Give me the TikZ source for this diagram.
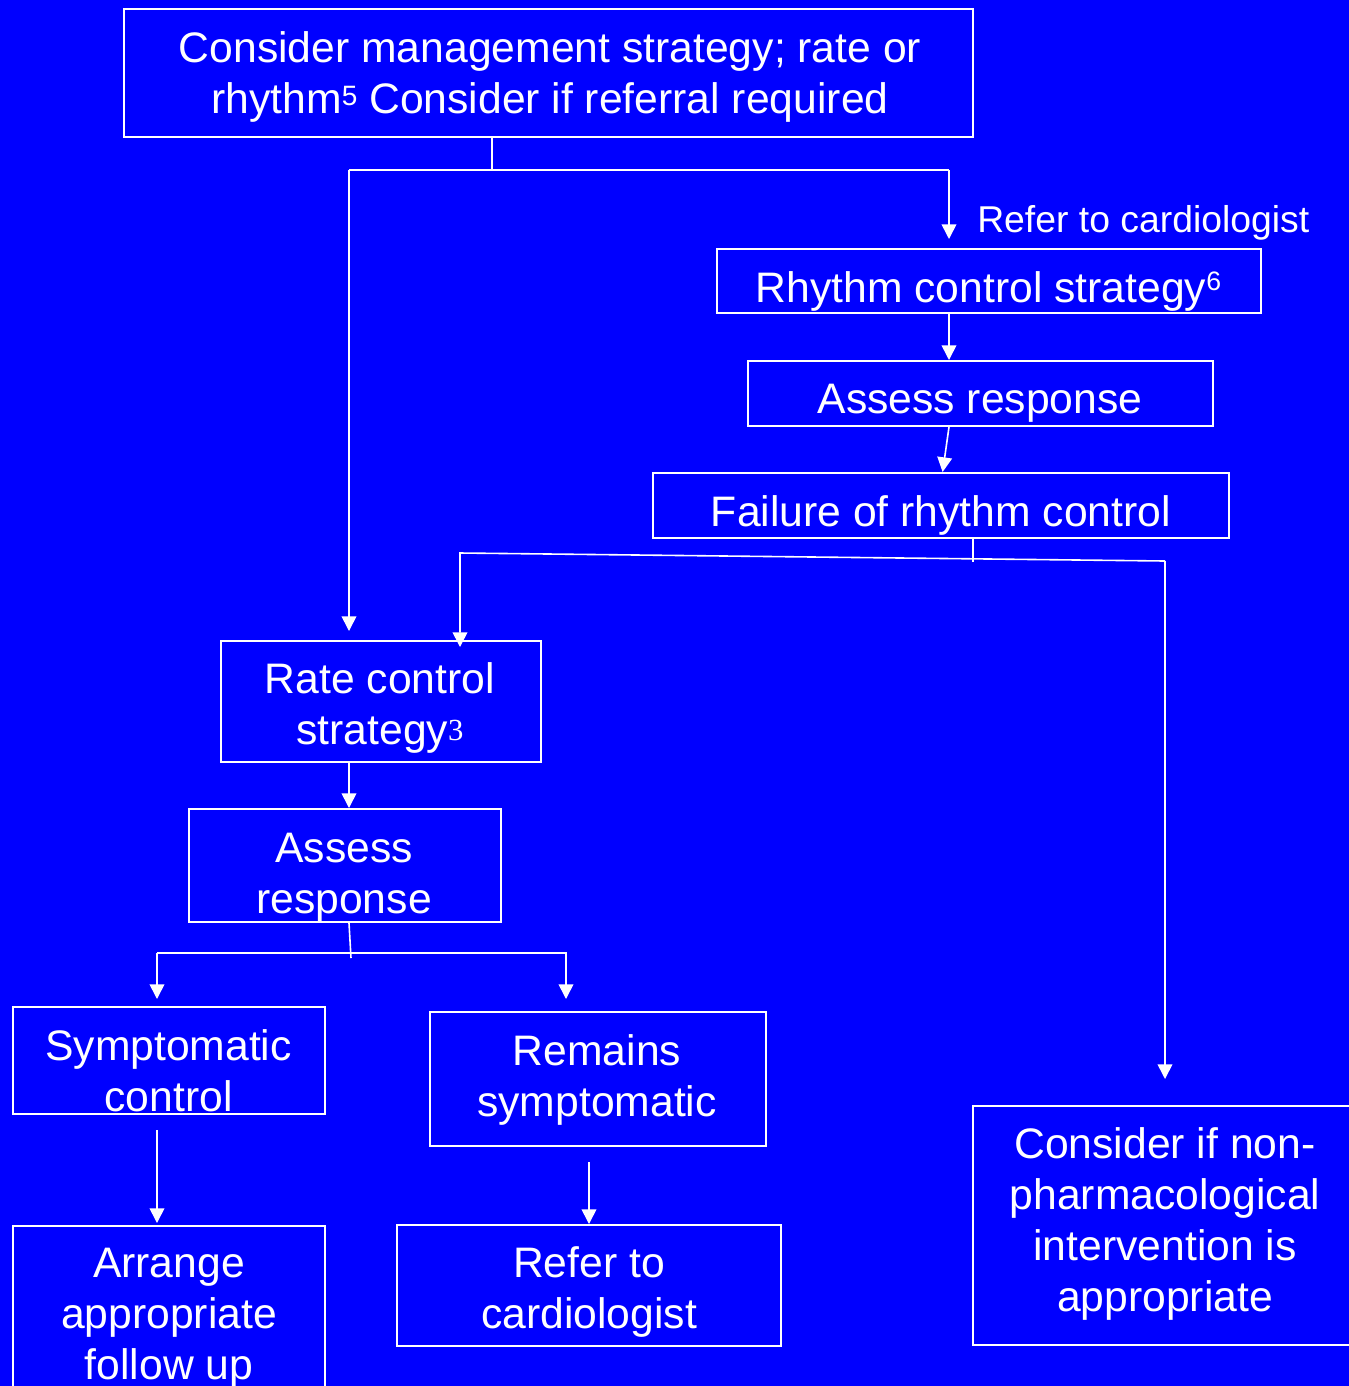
\documentclass[tikz,border=0pt]{standalone}
\usepackage{fontspec}
\setmainfont{Liberation Sans}
\newfontfamily\serifsup{Liberation Serif}
\usetikzlibrary{arrows.meta}
\definecolor{bg}{RGB}{0,0,255}
\newcommand{\mysup}[3]{\smash{\raisebox{#1}{\fontsize{#2}{#2}\selectfont #3}}}
\begin{document}
\begin{tikzpicture}[x=0.75pt, y=-0.75pt,
  box/.style={draw=white, line width=1.5pt, inner sep=0pt, rectangle},
  txt/.style={text=white, font=\fontsize{32}{38.25}\selectfont, align=center, inner sep=0pt, anchor=north},
  lbl/.style={text=white, font=\fontsize{28}{33}\selectfont, inner sep=0pt},
  ln/.style={draw=white, line width=1.2pt},
  arr/.style={ln, -{Triangle[length=11pt, width=11pt]}}]
\useasboundingbox (0,0) rectangle (1349,1386);
\clip (0,0) rectangle (1349,1386);
\fill[bg] (0,0) rectangle (1349,1386);

% boxes
\node[box, minimum width=636.75pt, minimum height=96pt] (top) at (548.5,73) {};
\node[box, minimum width=408pt, minimum height=48pt] (rhythm) at (989,281) {};
\node[box, minimum width=348.75pt, minimum height=48.75pt] (assessR) at (980.5,393.5) {};
\node[box, minimum width=432pt, minimum height=48.75pt] (failure) at (941,505.5) {};
\node[box, minimum width=240pt, minimum height=90.75pt] (rate) at (381,701.5) {};
\node[box, minimum width=234pt, minimum height=84.75pt] (assessL) at (345,865.5) {};
\node[box, minimum width=234pt, minimum height=80.25pt] (symp) at (169,1060.5) {};
\node[box, minimum width=252pt, minimum height=100.5pt] (remains) at (597.5,1079) {};
\node[box, minimum width=234pt, minimum height=130.5pt] (arrange) at (169,1313) {};
\node[box, minimum width=288pt, minimum height=90.75pt] (referB) at (589,1285.5) {};
\node[box, minimum width=290.25pt, minimum height=179.25pt] (nonpharm) at (1166.5,1225.5) {};

% texts
\node[txt] (t1) at (550,26.3) {\strut Consider management strategy; rate or\\ \strut rhythm\mysup{6pt}{21}{5} Consider if referral required};
\node[txt] (t2) at (988.5,266.3) {\strut Rhythm control strategy\mysup{8.5pt}{20}{6}};
\node[txt] (t3) at (980,377.3) {\strut Assess response};
\node[txt] (t4) at (941,490.3) {\strut Failure of rhythm control};
\node[txt] (t5) at (380,657.3) {\strut Rate control\\ \strut strategy\mysup{2.5pt}{23}{\serifsup 3}};
\node[txt] (t6) at (344,826.3) {\strut Assess\\ \strut response};
\node[txt] (t7) at (168.5,1024.3) {\strut Symptomatic\\ \strut control};
\node[txt] (t8) at (597,1029.3) {\strut Remains\\ \strut symptomatic};
\node[txt] (t9) at (169,1241.3) {\strut Arrange\\ \strut appropriate\\ \strut follow up};
\node[txt] (t10) at (589,1241.3) {\strut Refer to\\ \strut cardiologist};
\node[txt] (t11) at (1165,1122.3) {\strut Consider if non-\\ \strut pharmacological\\ \strut intervention is\\ \strut appropriate};
\node[lbl, anchor=base west] (lab) at (977,232) {Refer to cardiologist};

% connectors
\coordinate (j1) at (492,170);
\coordinate (jL) at (349,170);
\coordinate (jR) at (949,170);
\draw[ln] (j1 |- top.south) -- (j1);
\draw[ln] (jL) -- (jR);
\draw[arr, shorten >=6.75pt] (jL) -- (jL |- rate.north);
\draw[arr, shorten >=6.75pt] (jR) -- (jR |- rhythm.north);
\draw[arr] (jR |- rhythm.south) -- (jR |- assessR.north);
\draw[arr] (jR |- assessR.south) -- ([xshift=1.2pt]failure.north);

\coordinate (j2) at (973,562);
\coordinate (k1) at (460,553);
\coordinate (k2) at (1165,561);
\draw[ln] (j2 |- failure.south) -- (j2);
\draw[arr, shorten >=-5.25pt] (k2) -- (k1) -- (k1 |- rate.north);
\draw[arr, shorten >=19.5pt] (k2) -- (k2 |- nonpharm.north);

\draw[arr] (jL |- rate.south) -- (jL |- assessL.north);

\coordinate (j3) at (351,958);
\coordinate (m1) at (157,953);
\coordinate (m2) at (566,953);
\draw[ln] ([xshift=3pt]assessL.south) -- (j3);
\draw[arr, shorten >=5.25pt] (m1) -- (m1 |- symp.north);
\draw[arr, shorten >=9pt] (m1) -- (m2) -- (m2 |- remains.north);
\draw[arr, shorten <=11.25pt, shorten >=1.5pt] (m1 |- symp.south) -- (m1 |- arrange.north);
\draw[arr, shorten <=11.25pt] (referB.north |- remains.south) -- (referB.north);
\end{tikzpicture}
\end{document}
